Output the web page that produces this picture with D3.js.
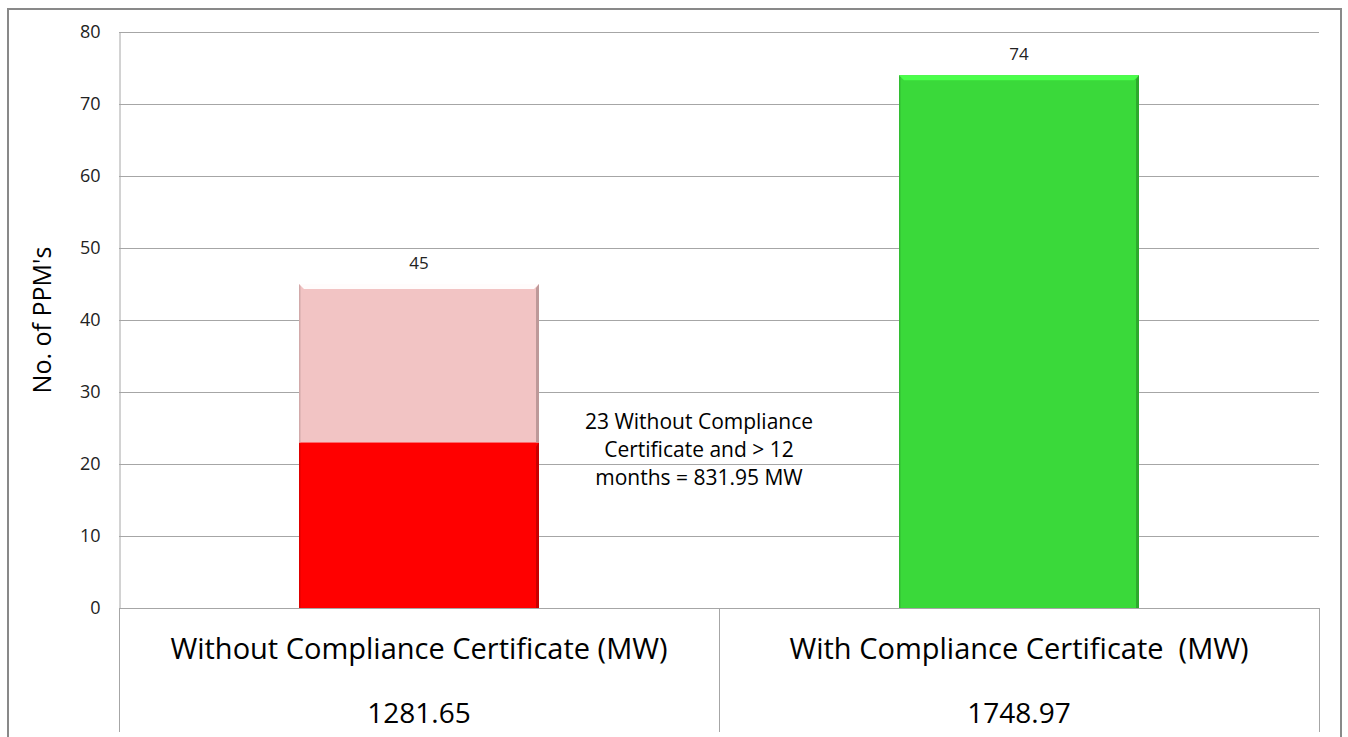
<!DOCTYPE html>
<meta charset='utf-8'>
<body style="margin:0;background:#fff">
<script src='https://d3js.org/d3.v7.min.js'></script>
<script>

    var categories = ['Without Compliance Certificate (MW)', 'With Compliance Certificate  (MW)'];
    var tableValues = ['1281.65', '1748.97'];
    var lowerValues = [23, 74];
    var totalValues = [45, 74];
    var yTicks = [0, 10, 20, 30, 40, 50, 60, 70, 80];
    var noteLines = ['23 Without Compliance', 'Certificate and > 12', 'months = 831.95 MW'];

    var colors = { red: '#FF0000', pink: '#F2C4C4', green: '#3AD93A', grid: '#A6A6A6', text: '#222' };
    var font = "'Open Sans', 'Noto Sans', sans-serif";

    var width = 1348, height = 737;
    var plotLeft = 119, plotRight = 1319, plotTop = 32, plotBottom = 608;

    var svg = d3.select('body').append('svg')
        .attr('width', width)
        .attr('height', height)
        .style('display', 'block');

    // outer chart border
    svg.append('path')
        .attr('d', 'M8,' + (height + 2) + 'V9H1341V' + (height + 2))
        .attr('fill', 'none')
        .attr('stroke', '#898989')
        .attr('stroke-width', 2);

    var x = d3.scaleBand().domain(categories).range([plotLeft, plotRight]);
    var y = d3.scaleLinear().domain([0, 80]).range([plotBottom, plotTop]);
    var barW = x.bandwidth() * 0.4;

    // gridlines
    svg.append('g').selectAll('line')
        .data(yTicks)
        .enter().append('line')
        .attr('x1', plotLeft).attr('x2', plotRight)
        .attr('y1', function(d) { return y(d) + 0.5; })
        .attr('y2', function(d) { return y(d) + 0.5; })
        .attr('stroke', colors.grid)
        .attr('stroke-width', 1);

    // y axis
    var yAxis = svg.append('g')
        .attr('transform', 'translate(' + (plotLeft + 0.5) + ',0)')
        .call(d3.axisLeft(y).tickValues(yTicks).tickSize(0).tickPadding(19));
    yAxis.select('.domain').attr('stroke', colors.grid);
    yAxis.selectAll('text')
        .style('font-family', font)
        .style('font-size', '18px')
        .attr('fill', colors.text);

    svg.append('text')
        .attr('transform', 'translate(51,' + ((plotTop + plotBottom) / 2) + ') rotate(-90)')
        .attr('text-anchor', 'middle')
        .style('font-family', font)
        .style('font-size', '25px')
        .attr('fill', '#000')
        .text("No. of PPM's");

    // bars
    var pieces = [];
    categories.forEach(function(c, i) {
        if (i === 0) {
            pieces.push({ c: c, from: 0, to: lowerValues[i], color: colors.red });
            pieces.push({ c: c, from: lowerValues[i], to: totalValues[i], color: colors.pink });
        } else {
            pieces.push({ c: c, from: 0, to: totalValues[i], color: colors.green });
        }
    });

    var bars = svg.append('g').selectAll('g')
        .data(pieces)
        .enter().append('g')
        .attr('transform', function(d) {
            return 'translate(' + (x(d.c) + (x.bandwidth() - barW) / 2) + ',' + y(d.to) + ')';
        });

    bars.append('rect')
        .attr('width', barW)
        .attr('height', function(d) { return y(d.from) - y(d.to); })
        .attr('fill', function(d) { return d.color; });

    // bevel edges
    bars.append('path')
        .attr('d', 'M0,0H' + barW + 'l-5,5H5Z')
        .attr('fill', function(d) { return d3.color(d.color).brighter(0.7); });
    bars.append('path')
        .attr('d', function(d) {
            var h = y(d.from) - y(d.to);
            return 'M' + barW + ',0V' + h + 'h-3V4Z';
        })
        .attr('fill', function(d) { return d3.color(d.color).darker(0.7); });
    bars.append('path')
        .attr('d', function(d) {
            var h = y(d.from) - y(d.to);
            return 'M0,0V' + h + 'h1.5V2Z';
        })
        .attr('fill', function(d) { return d3.color(d.color).darker(0.4); });

    // data labels
    svg.append('g').selectAll('text')
        .data(categories)
        .enter().append('text')
        .attr('x', function(d) { return x(d) + x.bandwidth() / 2; })
        .attr('y', function(d, i) { return y(totalValues[i]) - 15; })
        .attr('text-anchor', 'middle')
        .style('font-family', font)
        .style('font-size', '17px')
        .attr('fill', colors.text)
        .text(function(d, i) { return totalValues[i]; });

    // annotation
    svg.append('text')
        .attr('text-anchor', 'middle')
        .style('font-family', font)
        .style('font-size', '21px')
        .attr('fill', '#000')
        .selectAll('tspan')
        .data(noteLines)
        .enter().append('tspan')
        .attr('x', 699)
        .attr('y', function(d, i) { return 429 + i * 28; })
        .text(function(d) { return d; });

    // data table under the axis
    var table = svg.append('g');
    table.selectAll('line')
        .data([plotLeft, x(categories[1]), plotRight])
        .enter().append('line')
        .attr('x1', function(d) { return d + 0.5; })
        .attr('x2', function(d) { return d + 0.5; })
        .attr('y1', plotBottom)
        .attr('y2', 732)
        .attr('stroke', colors.grid);

    table.selectAll('.cat')
        .data(categories)
        .enter().append('text')
        .attr('class', 'cat')
        .attr('x', function(d) { return x(d) + x.bandwidth() / 2; })
        .attr('y', 659)
        .attr('text-anchor', 'middle')
        .style('font-family', font)
        .style('font-size', '29px')
        .style('white-space', 'pre')
        .attr('fill', '#000')
        .text(function(d) { return d; });

    table.selectAll('.val')
        .data(categories)
        .enter().append('text')
        .attr('class', 'val')
        .attr('x', function(d) { return x(d) + x.bandwidth() / 2; })
        .attr('y', 723)
        .attr('text-anchor', 'middle')
        .style('font-family', font)
        .style('font-size', '28px')
        .attr('fill', '#000')
        .text(function(d, i) { return tableValues[i]; });

</script>
</body>
